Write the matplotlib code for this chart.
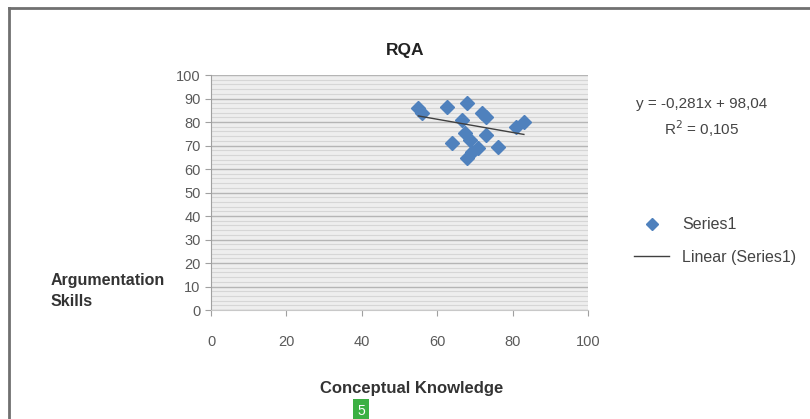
import numpy as np
import matplotlib
matplotlib.use('Agg')
import matplotlib.pyplot as plt
from matplotlib.lines import Line2D
from matplotlib.ticker import MultipleLocator

plt.rcParams['font.family'] = ['Liberation Sans', 'DejaVu Sans']

# donnees
knowledge = [55, 56, 62.5, 68, 66.5, 72, 73, 81, 83, 64, 68.7, 73, 69.2, 70.8, 76, 67.8, 67.4]
argument = [86, 84, 86.5, 88, 81, 84, 82, 78, 80, 71, 72.3, 74.5, 67.4, 69, 69.5, 64.6, 75.3]

# droite de tendance affichee par Excel
slope = -0.281
intercept = 98.04
r2 = 0.105

x_ticks = [0, 20, 40, 60, 80, 100]
y_ticks = [0, 10, 20, 30, 40, 50, 60, 70, 80, 90, 100]

fig = plt.figure(figsize=(8.1, 4.19), dpi=100)
ax = fig.add_axes([0.2605, 0.260, 0.4654, 0.561])
ax.set_facecolor('#eeeeee')

ax.set_xlim(0, 100)
ax.set_ylim(0, 100)
ax.set_xticks(x_ticks)
ax.set_yticks(y_ticks)
ax.yaxis.set_minor_locator(MultipleLocator(2))
ax.grid(True, axis='y', which='major', color='#b5b5b5', linewidth=1.0)
ax.grid(True, axis='y', which='minor', color='#d6d6d6', linewidth=0.8)
ax.set_axisbelow(True)

for s in ['top', 'right']:
    ax.spines[s].set_visible(False)
ax.spines['left'].set_color('#a0a0a0')
ax.spines['bottom'].set_color('#c8c8c8')
ax.tick_params(axis='both', which='major', colors='#a0a0a0', labelcolor='#5a5a5a',
               labelsize=10.5, length=4, direction='out')
ax.tick_params(axis='y', which='minor', length=0)
ax.tick_params(axis='x', pad=14)

ax.plot(knowledge, argument, linestyle='none', marker='D', markersize=7,
        color='#4f81bd', markeredgecolor='#4f81bd', zorder=3)

xt = np.array([min(knowledge), max(knowledge)])
ax.plot(xt, slope * xt + intercept, color='#404040', linewidth=1.0, zorder=4)

fig.text(0.500, 0.880, 'RQA', ha='center', va='center', fontsize=12.5, fontweight='bold',
         color='#222222')
fig.text(0.508, 0.073, 'Conceptual Knowledge', ha='center', va='center',
         fontsize=12, fontweight='bold', color='#333333')
fig.text(0.062, 0.305, 'Argumentation\nSkills', ha='left', va='center',
         fontsize=11.5, fontweight='bold', color='#333333', linespacing=1.5)

fig.text(0.866, 0.718, 'y = -0,281x + 98,04\nR$^2$ = 0,105', ha='center', va='center',
         fontsize=11, color='#444444', linespacing=1.4)

handles = [Line2D([], [], linestyle='none', marker='D', markersize=6, color='#4f81bd'),
           Line2D([], [], color='#404040', linewidth=1.0)]
fig.legend(handles, ['Series1', 'Linear (Series1)'], loc='center left',
           bbox_to_anchor=(0.765, 0.425), frameon=False, fontsize=11.5,
           labelcolor='#444444', handlelength=2.2, labelspacing=1.1)

# cadre du graphique
fig.add_artist(Line2D([0.011, 1.0], [0.981, 0.981], color='#707070', linewidth=2))
fig.add_artist(Line2D([0.011, 0.011], [0.0, 0.981], color='#707070', linewidth=2))

fig.text(0.446, 0.020, '5', ha='center', va='center', fontsize=10, color='white',
         bbox=dict(boxstyle='square,pad=0.3', facecolor='#3cb043', edgecolor='none'))

fig.savefig('out.png', dpi=100)
